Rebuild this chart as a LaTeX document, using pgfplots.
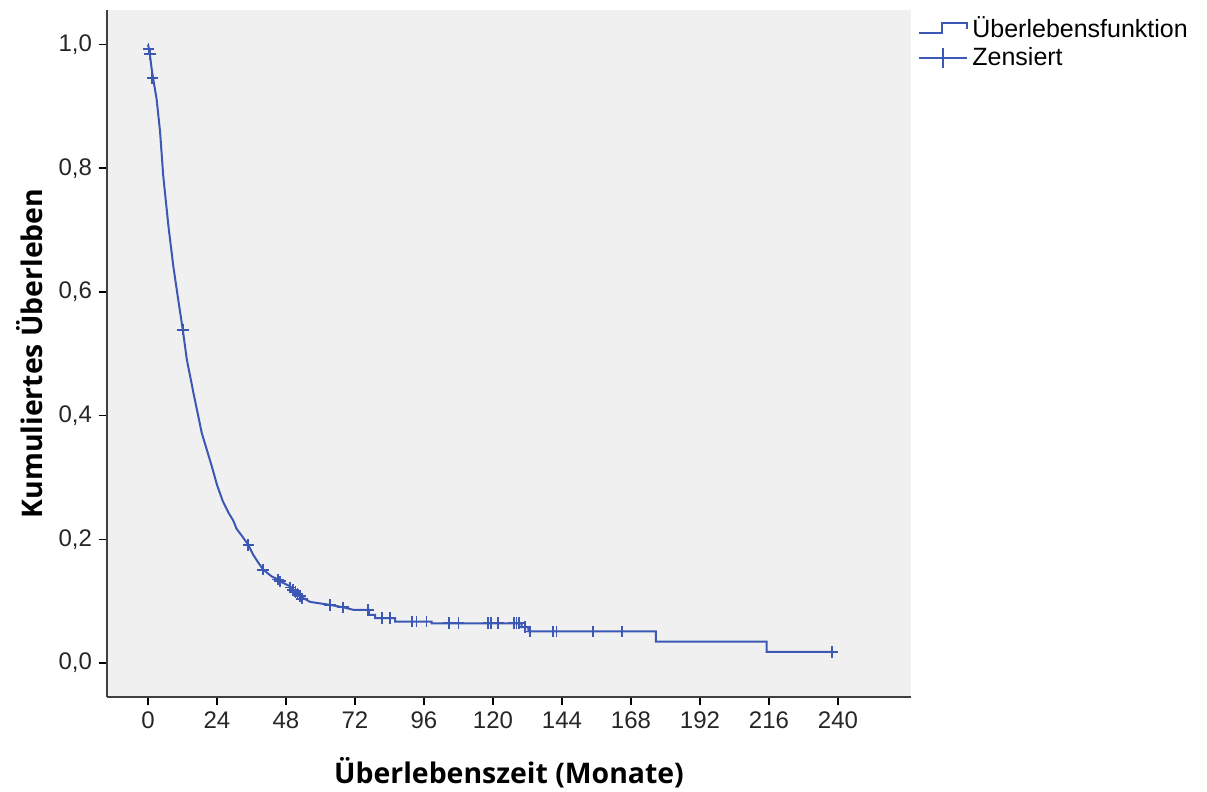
\documentclass[border=0pt]{standalone}
\usepackage{pgfplots}
\pgfplotsset{compat=1.18}
\usepackage{fontspec}
\setmainfont{Liberation Sans}
\newfontfamily\labelfont{Open Sans}

\definecolor{kmblue}{RGB}{60,88,180}
\definecolor{panelgrey}{RGB}{240,240,240}

\begin{document}
\begin{tikzpicture}
\begin{axis}[
  scale only axis,
  width=402pt, height=343.5pt,
  xmin=-14.26, xmax=265.4,
  ymin=-0.055, ymax=1.056,
  axis x line*=bottom, axis y line*=left,
  axis line style={black!75, line width=0.8pt},
  axis background/.style={fill=panelgrey},
  tick align=outside,
  major tick length=4pt,
  tick style={black, line width=0.8pt},
  xtick={0,24,...,240},
  ytick={0,0.2,...,1.0},
  minor tick num=0,
  yticklabel style={/pgf/number format/.cd, fixed, fixed zerofill, precision=1, use comma},
  /pgf/number format/assume math mode=true,
  tick label style={font=\fontsize{12}{14}\selectfont, color=black!85},
  xlabel={Überlebenszeit (Monate)},
  ylabel={Kumuliertes Überleben},
  label style={font=\labelfont\bfseries\fontsize{14.2}{16}\selectfont},
  xlabel style={at={(axis description cs:0.5,-0.1106)}, anchor=center},
  ylabel style={at={(axis description cs:-0.0958,0.5)}, anchor=center},
  legend style={draw=none, fill=none, at={(axis description cs:1.0087,0.997)},
    anchor=north west, font=\fontsize{12.5}{14}\selectfont,
    row sep=-0.5pt, inner sep=0pt},
  legend cell align=left,
]
% Kaplan-Meier survival function
\addplot[kmblue, line width=1pt, sharp plot,
  legend image code/.code={\draw[kmblue, line width=1pt]
    (0pt,-2.5pt) -- (11.5pt,-2.5pt) -- (11.5pt,2.5pt) -- (24pt,2.5pt) -- (24pt,-0.5pt);}]
coordinates {
(0,1.0) (0.5,0.99) (1.3,0.96) (1.8,0.945) (3.0,0.912) (4.2,0.859) (5.3,0.788)
(7.1,0.707) (8.8,0.642) (10.5,0.588) (12.1,0.539) (13.5,0.491) (15.8,0.437)
(18.7,0.372) (22.2,0.318) (24.0,0.288) (26.0,0.262) (28.0,0.243) (29.7,0.230)
(30.8,0.217) (32.6,0.206) (34.9,0.191) (36.6,0.175) (38.4,0.162) (40.1,0.151)
(43.0,0.140) (45.3,0.135) (45.9,0.132) (47.7,0.128) (49.4,0.124) (51.0,0.117)
(52.9,0.108) (56.3,0.099) (57.5,0.098) (63.3,0.094) (67.9,0.090) (71.4,0.086)
(76.8,0.086) (76.8,0.078) (79.0,0.078) (79.0,0.0724) (86.0,0.0724) (86.0,0.067)
(98.7,0.067) (98.7,0.0642) (130.0,0.0642) (130.0,0.058) (132.3,0.058) (132.3,0.051)
(176.7,0.051) (176.7,0.0345) (215.2,0.0345) (215.2,0.0178) (238.0,0.0178)
};
\addlegendentry{Überlebensfunktion}
% censored observations
\addplot[kmblue, only marks, mark=+, mark size=2.9pt, line width=0.9pt,
  legend image code/.code={\draw[kmblue, line width=0.9pt] (0pt,0pt) -- (24pt,0pt);
    \draw[kmblue, line width=0.9pt] (12pt,-5pt) -- (12pt,5pt);}]
coordinates {
(0.2,0.993) (0.8,0.985) (1.5,0.946) (12.1,0.539) (34.9,0.191) (40.1,0.151)
(45.3,0.135) (45.9,0.132) (49.5,0.122) (50.5,0.118) (51.3,0.115) (52.0,0.112)
(52.8,0.108) (53.5,0.104) (63.3,0.094) (67.9,0.090) (76.6,0.086) (81.3,0.0724)
(84.2,0.0724) (91.7,0.067) (93.4,0.067) (96.9,0.067) (104.8,0.0642) (108.0,0.0642)
(118.4,0.0642) (119.2,0.0642) (121.8,0.0642) (127.4,0.0642) (128.2,0.0642)
(129.0,0.0642) (131.0,0.058) (132.9,0.051) (141.0,0.051) (142.1,0.051)
(154.9,0.051) (164.8,0.051) (238.0,0.0178)
};
\addlegendentry{Zensiert}
\end{axis}
\pgfresetboundingbox
\path[use as bounding box] (-53.5pt,-47.5pt) rectangle (550pt,348.5pt);
\end{tikzpicture}
\end{document}
